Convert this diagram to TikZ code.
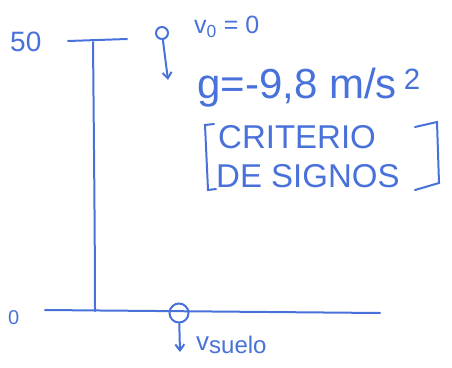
\documentclass[tikz,border=0pt]{standalone}
\usepackage{fontspec}
\setmainfont{Liberation Sans}
\usetikzlibrary{arrows.meta}
\definecolor{ink}{RGB}{72,114,218}
\begin{document}
\begin{tikzpicture}[x=1pt,y=-1pt,
  pen/.style={draw=ink,line width=2pt,line cap=round},
  ball/.style={circle,draw=ink,line width=2pt,inner sep=0pt},
  arr/.style={pen,-{Straight Barb[length=6pt,width=9pt]}},
  lbl/.style={text=ink,inner sep=0pt,anchor=west}]
\useasboundingbox (0,0) rectangle (452,367);
% height marks
\node[lbl,font=\fontsize{28}{28}\selectfont] (h50) at (10,42) {50};
\node[lbl,font=\fontsize{20}{20}\selectfont] (h0) at (8,318) {0};
\draw[pen] (68,41) -- (127,39);
\draw[pen] (93,42) .. controls (94,150) and (95,250) .. (95,311);
\draw[pen] (45,310) -- (380,313);
% top ball
\node[ball,minimum size=12pt] (b0) at (162,33) {};
\coordinate (e0) at (168,80);
\draw[arr] (b0) -- (e0);
\node[lbl,font=\fontsize{25}{25}\selectfont] (v0) at (194,27) {v\textsubscript{0} = 0};
\node[lbl,font=\fontsize{42}{42}\selectfont] (g) at (197,88) {g=-9,8 m/s\,\textsuperscript{2}};
\node[lbl,font=\fontsize{33}{33}\selectfont] (c1) at (218,137) {CRITERIO};
\node[lbl,font=\fontsize{33}{33}\selectfont] (c2) at (216,176) {DE SIGNOS};
\draw[pen] (214,124) -- (205,125) -- (208,190) -- (216,189);
\draw[pen] (415,127) -- (437,122) -- (439,183) -- (415,190);
% ground ball
\node[ball,minimum size=19pt] (b1) at (179,313) {};
\coordinate (e1) at (180,352);
\draw[arr] (b1) -- (e1);
\node[lbl,font=\fontsize{26}{26}\selectfont] (vs) at (196,345) {v\raisebox{-3pt}{\fontsize{24}{24}\selectfont suelo}};
\end{tikzpicture}
\end{document}
